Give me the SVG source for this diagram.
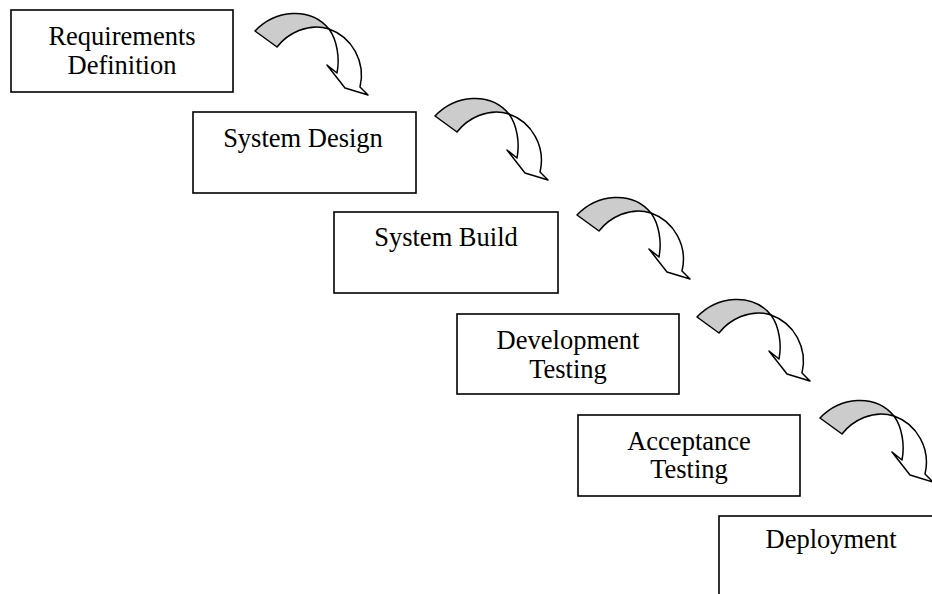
<svg xmlns="http://www.w3.org/2000/svg" width="932" height="594" viewBox="0 0 932 594" xmlns:xlink="http://www.w3.org/1999/xlink">
<style>
.box{fill:#fff;stroke:#000;stroke-width:1.6}
.t{font-family:"Liberation Serif","Times New Roman",serif;font-size:26.5px;fill:#000;text-anchor:middle}
.g{fill:#cccccc;stroke:#000;stroke-width:1.5;stroke-linejoin:round}
.w{fill:#fff;stroke:#000;stroke-width:1.5;stroke-linejoin:round}
</style>
<defs>
<g id="arrow">
<path class="g" d="M255,31 C275,10 310,6 329,29 C308,22 287,34 277,47 Z"/>
<path class="w" d="M329,29 C337,40 340,58 337,73 L327,65 L345,88 L368,95 L360,87 C366,62 352,37 329,29 Z"/>
</g>
</defs>
<rect width="932" height="594" fill="#fff"/>
<g id="connectors">
<use xlink:href="#arrow" href="#arrow"/>
<use xlink:href="#arrow" href="#arrow" transform="translate(180,85)"/>
<use xlink:href="#arrow" href="#arrow" transform="translate(322,184)"/>
<use xlink:href="#arrow" href="#arrow" transform="translate(442,286)"/>
<use xlink:href="#arrow" href="#arrow" transform="translate(565,387)"/>
</g>
<g id="n1">
<rect class="box" x="11" y="10" width="222" height="82"/>
<text class="t" x="122" y="45">Requirements</text>
<text class="t" x="122" y="74">Definition</text>
</g>
<g id="n2">
<rect class="box" x="193" y="112" width="223" height="81"/>
<text class="t" x="303" y="147">System Design</text>
</g>
<g id="n3">
<rect class="box" x="334" y="212" width="224" height="81"/>
<text class="t" x="446" y="246">System Build</text>
</g>
<g id="n4">
<rect class="box" x="457" y="314" width="222" height="80"/>
<text class="t" x="568" y="349">Development</text>
<text class="t" x="568" y="378">Testing</text>
</g>
<g id="n5">
<rect class="box" x="578" y="415" width="222" height="81"/>
<text class="t" x="689" y="450">Acceptance</text>
<text class="t" x="689" y="478">Testing</text>
</g>
<g id="n6">
<rect class="box" x="719" y="516" width="224" height="90"/>
<text class="t" x="831" y="548">Deployment</text>
</g>
</svg>
